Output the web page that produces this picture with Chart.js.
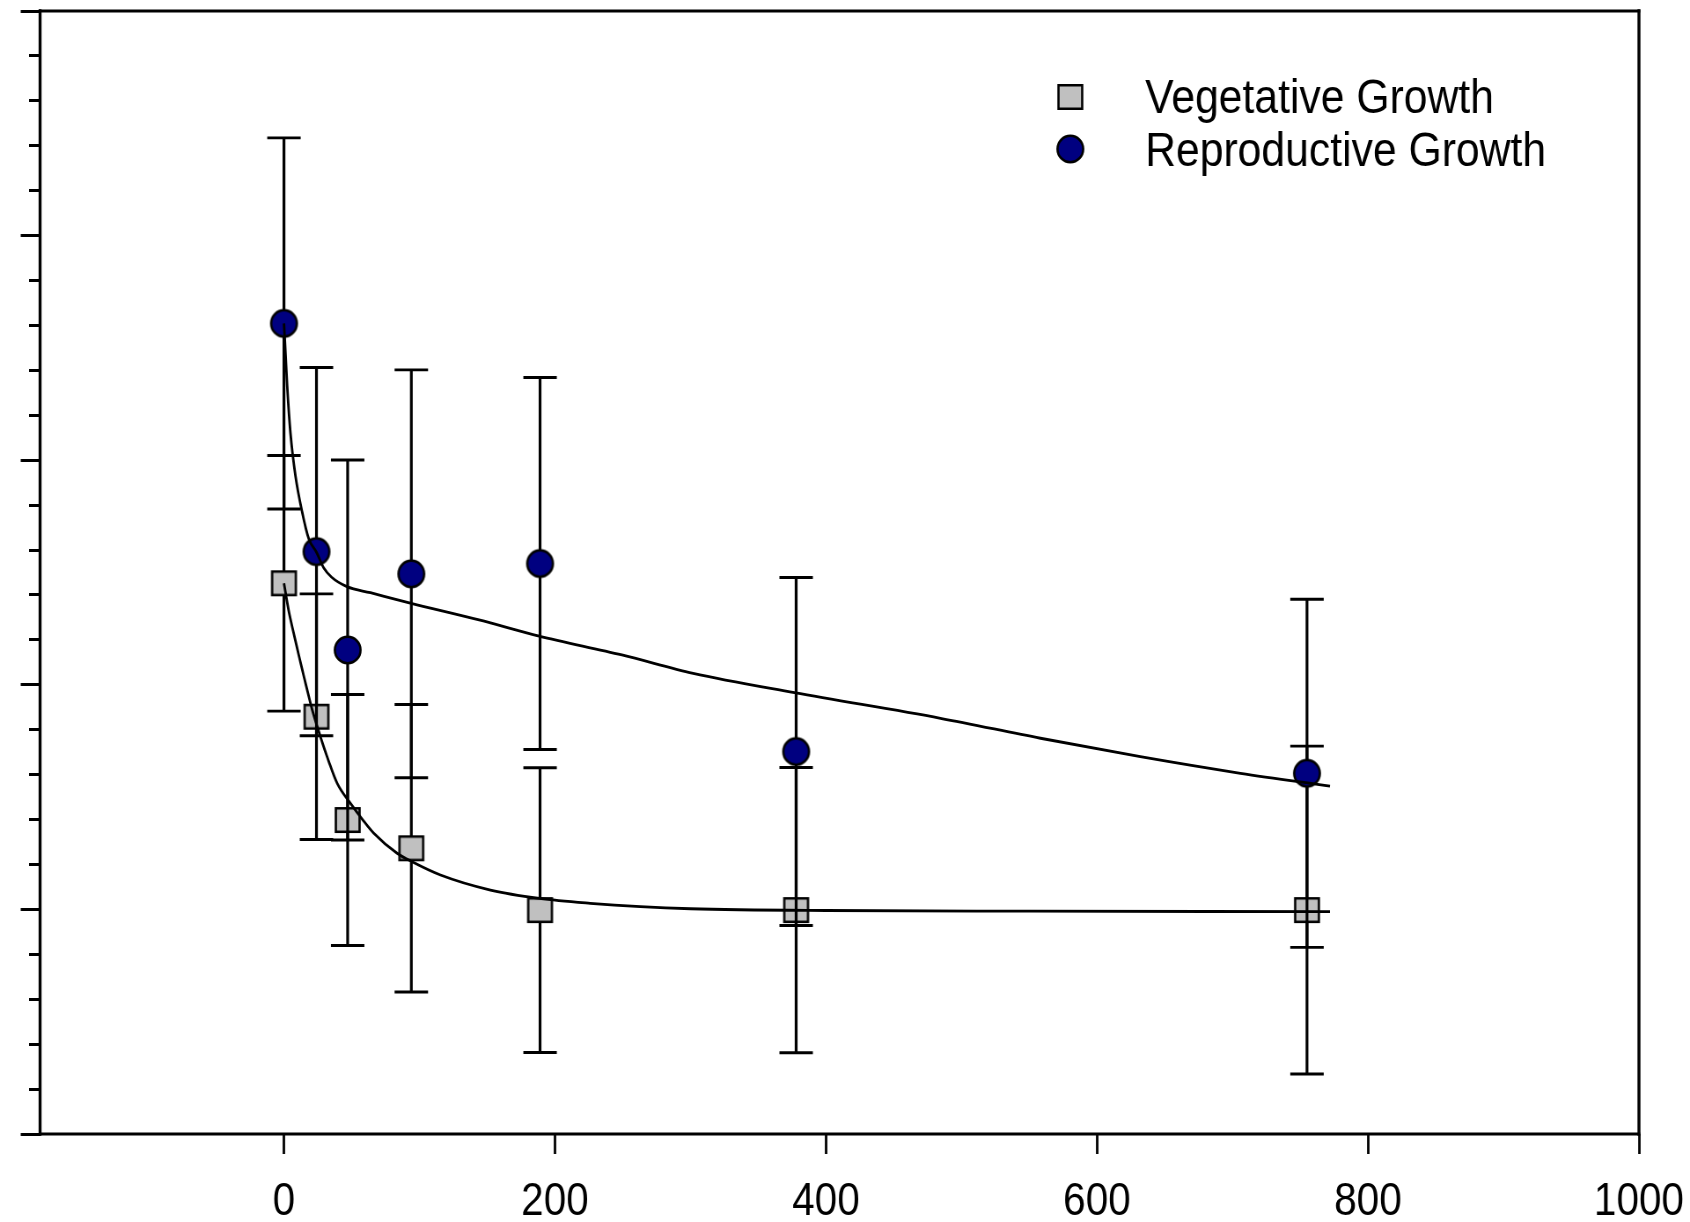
<!DOCTYPE html>
<html>
<head>
<meta charset="utf-8">
<title>Vegetative and Reproductive Growth</title>
<script src="https://cdn.jsdelivr.net/npm/chart.js@4.4.1/dist/chart.umd.min.js"></script>
<style>
  html, body { margin: 0; padding: 0; background: #ffffff; overflow: hidden; }
  #chart { display: block; }
</style>
</head>
<body>
<!-- the original figure is a bit narrower than it is tall, so the canvas
     bitmap is wider than its box and the browser squeezes it -->
<canvas id="chart" width="1920" height="1222" style="width:1690px;height:1222px"></canvas>
<script>
// x positions of the measured groups (shared by both series)
const doses = [0, 24, 47, 94, 189, 378, 755];

// Vegetative growth: means and error half-widths
const vegetativeMean = [2.452, 1.858, 1.398, 1.272, 0.997, 0.997, 0.997];
const vegetativeErr = [0.569, 0.547, 0.559, 0.640, 0.634, 0.635, 0.730];

// Reproductive growth: means and error half-widths
const reproductiveMean = [3.609, 2.593, 2.155, 2.494, 2.540, 1.703, 1.606];
const reproductiveErr = [0.826, 0.820, 0.846, 0.908, 0.828, 0.775, 0.775];

// fitted curves, points
const vegFitX = [0, 3.5, 7.2, 11, 15, 20.8, 26.9, 33, 39.3, 49.1, 58, 66.3, 83.5, 94.6, 115.5, 152.4, 188.6, 226, 263, 300, 400, 550, 772];
const vegFitY = [2.452, 2.33, 2.229, 2.13, 2.03, 1.89, 1.769, 1.66, 1.561, 1.472, 1.40, 1.339, 1.25, 1.212, 1.153, 1.086, 1.049, 1.027, 1.012, 1.003, 0.995, 0.992, 0.99];
const repFitX = [0, 1.2, 2.4, 4.8, 8.5, 13.4, 18.3, 24, 29.4, 35, 46.5, 63.8, 93.9, 144, 188.3, 249.4, 302, 376.7, 484.5, 558.3, 632, 705.9, 772];
const repFitY = [3.609, 3.47, 3.33, 3.12, 2.93, 2.77, 2.65, 2.59, 2.52, 2.48, 2.437, 2.41, 2.363, 2.289, 2.217, 2.133, 2.051, 1.965, 1.851, 1.762, 1.68, 1.606, 1.549];

// axis ticks
const xTickValues = [0, 200, 400, 600, 800, 1000];
const yMajorTicks = [0, 1, 2, 3, 4, 5];
const yMinorPerMajor = 5;

const legendLabels = ["Vegetative Growth", "Reproductive Growth"];

const FONT = "'Liberation Sans', Arial, sans-serif";
const vegColor = "#c0c0c0";
const repColor = "#000080";
const SQUEEZE = 1690 / 1920; // horizontal squeeze of the canvas

const toPoints = (xs, ys) => xs.map((x, i) => ({ x: x, y: ys[i] }));

// minor ticks between the major ones
const yTickValues = [];
yMajorTicks.forEach((v, i) => {
  yTickValues.push(v);
  if (i < yMajorTicks.length - 1) {
    const step = (yMajorTicks[i + 1] - v) / yMinorPerMajor;
    for (let k = 1; k < yMinorPerMajor; k++) yTickValues.push(v + k * step);
  }
});
const isMajor = (v) => yMajorTicks.some((m) => Math.abs(m - v) < 1e-6);

// markers are round/square on screen, so they are drawn pre-widened
function makeMarker(shape, fill) {
  const c = document.createElement("canvas");
  c.width = 38;
  c.height = 34;
  const g = c.getContext("2d");
  const bw = 2.6;
  const cx = c.width / 2;
  const cy = c.height / 2;
  g.fillStyle = fill;
  g.strokeStyle = "#000";
  g.lineWidth = bw;
  g.beginPath();
  if (shape === "rect") {
    const w = 26 / SQUEEZE - bw;
    const h = 26 - bw;
    g.rect(cx - w / 2, cy - h / 2, w, h);
  } else {
    g.ellipse(cx, cy, 14 / SQUEEZE - bw / 2, 14.5 - bw / 2, 0, 0, Math.PI * 2);
  }
  g.fill();
  g.stroke();
  return c;
}
const squareMarker = makeMarker("rect", vegColor);
const circleMarker = makeMarker("circle", repColor);

// --- box round the plot ---
const framePlugin = {
  id: "plotFrame",
  beforeDatasetsDraw(chart) {
    const { ctx, chartArea: a } = chart;
    ctx.save();
    ctx.strokeStyle = "#000";
    ctx.lineCap = "square";
    ctx.lineWidth = 3;
    ctx.beginPath();
    ctx.moveTo(a.left, a.top);
    ctx.lineTo(a.right, a.top);
    ctx.moveTo(a.left, a.bottom);
    ctx.lineTo(a.right, a.bottom);
    ctx.stroke();
    ctx.lineWidth = 3.4;
    ctx.beginPath();
    ctx.moveTo(a.left, a.top);
    ctx.lineTo(a.left, a.bottom);
    ctx.moveTo(a.right, a.top);
    ctx.lineTo(a.right, a.bottom);
    ctx.stroke();
    ctx.restore();
  },
};

// --- error bars, drawn just under each marker series ---
const errorBarPlugin = {
  id: "errorBars",
  beforeDatasetDraw(chart, args) {
    const ds = chart.data.datasets[args.index];
    if (!ds.errors) return;
    const { ctx } = chart;
    const xs = chart.scales.x;
    const ys = chart.scales.y;
    const capHalf = 19;
    ctx.save();
    ctx.strokeStyle = "#000";
    ds.data.forEach((p, i) => {
      const px = xs.getPixelForValue(p.x);
      const top = ys.getPixelForValue(p.y + ds.errors[i]);
      const bot = ys.getPixelForValue(p.y - ds.errors[i]);
      ctx.lineWidth = 3.2;
      ctx.beginPath();
      ctx.moveTo(px, top);
      ctx.lineTo(px, bot);
      ctx.stroke();
      ctx.lineWidth = 2.9;
      ctx.beginPath();
      ctx.moveTo(px - capHalf, top);
      ctx.lineTo(px + capHalf, top);
      ctx.moveTo(px - capHalf, bot);
      ctx.lineTo(px + capHalf, bot);
      ctx.stroke();
    });
    ctx.restore();
  },
};

// --- legend inside the plot, top right ---
const legendPlugin = {
  id: "insideLegend",
  afterDatasetsDraw(chart) {
    const { ctx } = chart;
    const rows = [
      { text: legendLabels[0], marker: squareMarker, my: 97, ty: 113 },
      { text: legendLabels[1], marker: circleMarker, my: 149, ty: 166 },
    ];
    const mx = 1216;
    const tx = 1301;
    ctx.save();
    rows.forEach((r) => {
      const m = r.marker;
      ctx.drawImage(m, mx - m.width / 2, r.my - m.height / 2);
      ctx.fillStyle = "#000";
      ctx.font = "48.5px " + FONT;
      ctx.textBaseline = "alphabetic";
      ctx.textAlign = "left";
      ctx.fillText(r.text, tx, r.ty);
    });
    ctx.restore();
  },
};

const ctx = document.getElementById("chart").getContext("2d");
new Chart(ctx, {
  type: "scatter",
  data: {
    datasets: [
      {
        label: legendLabels[0],
        data: toPoints(doses, vegetativeMean),
        errors: vegetativeErr,
        pointStyle: squareMarker,
        pointRadius: 15,
        order: 3,
      },
      {
        label: legendLabels[1],
        data: toPoints(doses, reproductiveMean),
        errors: reproductiveErr,
        pointStyle: circleMarker,
        pointRadius: 15,
        order: 2,
      },
      {
        label: "Vegetative fit",
        data: toPoints(vegFitX, vegFitY),
        showLine: true,
        pointRadius: 0,
        borderColor: "#000",
        borderWidth: 2.8,
        cubicInterpolationMode: "monotone",
        order: 1,
      },
      {
        label: "Reproductive fit",
        data: toPoints(repFitX, repFitY),
        showLine: true,
        pointRadius: 0,
        borderColor: "#000",
        borderWidth: 2.8,
        cubicInterpolationMode: "monotone",
        order: 0,
      },
    ],
  },
  options: {
    responsive: false,
    devicePixelRatio: 1,
    animation: false,
    events: [],
    layout: { autoPadding: false, padding: { top: 11, right: 58, bottom: 0, left: 0 } },
    plugins: {
      legend: { display: false },
      tooltip: { enabled: false },
    },
    scales: {
      x: {
        type: "linear",
        min: -180,
        max: 1000,
        afterBuildTicks: (s) => {
          s.ticks = xTickValues.map((v) => ({ value: v }));
        },
        afterFit: (s) => {
          s.height = 88;
          s.paddingLeft = 0;
          s.paddingRight = 0;
        },
        border: { display: false },
        grid: {
          drawOnChartArea: false,
          tickLength: 20,
          tickWidth: 2.8,
          tickColor: "#000",
        },
        ticks: {
          color: "#000",
          font: { family: FONT, size: 46 },
          padding: 21,
          maxRotation: 0,
          autoSkip: false,
          callback: (v) => String(v),
        },
      },
      y: {
        type: "linear",
        min: 0,
        max: 5,
        afterBuildTicks: (s) => {
          s.ticks = yTickValues.map((v) => ({ value: v }));
        },
        afterFit: (s) => {
          s.width = 45.5;
        },
        border: { display: false },
        grid: {
          drawOnChartArea: false,
          tickLength: 22,
          tickWidth: 3,
          tickColor: "#000",
          // minor ticks: only the inner half of the tick is drawn
          tickBorderDash: (c) => (c.tick && isMajor(c.tick.value) ? [] : [0, 9.5, 40]),
        },
        ticks: { display: false },
      },
    },
  },
  plugins: [framePlugin, errorBarPlugin, legendPlugin],
});
</script>
</body>
</html>
